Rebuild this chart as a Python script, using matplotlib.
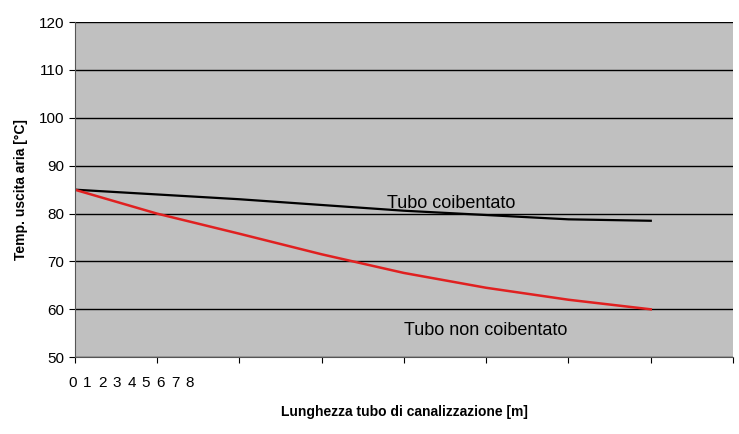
import matplotlib
matplotlib.use("Agg")
import matplotlib.pyplot as plt

plt.rcParams['font.family'] = ['Liberation Sans', 'DejaVu Sans']

x_pts = [0, 1, 2, 3, 4, 5, 6, 7]
coibentato = [85, 84, 83, 81.8, 80.6, 79.7, 78.8, 78.5]
non_coibentato = [85, 80, 75.8, 71.5, 67.6, 64.5, 62, 60]
tick_labels = ["0", "1", "2", "3", "4", "5", "6", "7", "8"]

fig = plt.figure(figsize=(7.39, 4.34), dpi=100)
ax = fig.add_axes([0.101, 0.177, 0.891, 0.772])
ax.set_facecolor('#c0c0c0')
ax.set_xlim(0, 8)
ax.set_ylim(50, 120)
ax.set_yticks(range(50, 121, 10))
ax.yaxis.grid(True, color='black', linewidth=1)
ax.set_axisbelow(True)
ax.set_xticks(range(0, 9))
ax.set_xticklabels([])
ax.tick_params(axis='x', direction='out', length=4)
ax.tick_params(axis='y', direction='out', length=4, labelsize=11)
for s in ['top', 'right']:
    ax.spines[s].set_visible(False)
ax.spines['left'].set_color('#555555')
ax.spines['bottom'].set_color('#555555')

ax.plot(x_pts, coibentato, color='black', linewidth=1.6)
ax.plot(x_pts, non_coibentato, color='#e02020', linewidth=1.8)

ax.text(3.8, 82.2, "Tubo coibentato", fontsize=13, va='center')
ax.text(4.0, 55.5, "Tubo non coibentato", fontsize=13, va='center')

for i, lab in enumerate(tick_labels):
    fig.text((73 + i * 14.6) / 739, 1 - 383 / 434, lab, fontsize=11, ha='center', va='center')

fig.text(404 / 739, 1 - 412 / 434, "Lunghezza tubo di canalizzazione [m]", fontsize=10,
         fontweight='bold', ha='center', va='center')
ax.set_ylabel("Temp. uscita aria [°C]", fontsize=10, fontweight='bold', labelpad=8)

fig.savefig("out.png", dpi=100)
